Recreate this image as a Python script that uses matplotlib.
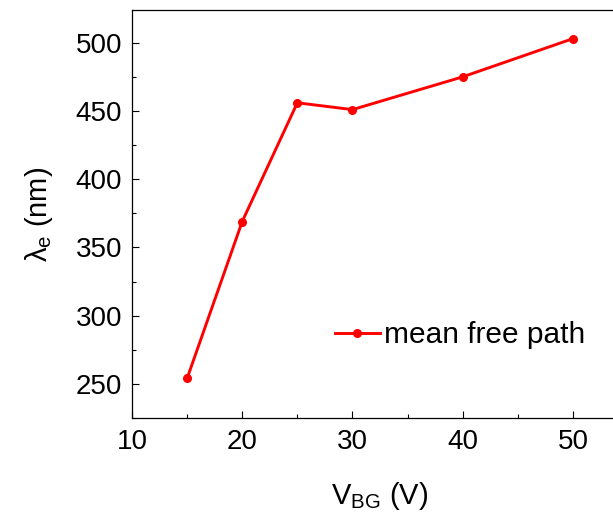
import matplotlib
matplotlib.use("Agg")
import matplotlib.pyplot as plt
from matplotlib.ticker import MultipleLocator

plt.rcParams['font.family'] = ['Liberation Sans', 'DejaVu Sans']
plt.rcParams['mathtext.fontset'] = 'custom'
plt.rcParams['mathtext.rm'] = 'Liberation Sans'
plt.rcParams['mathtext.it'] = 'Liberation Sans:italic'

v_bg = [15, 20, 25, 30, 40, 50]
mfp = [254, 369, 456, 451, 475, 503]
x_ticks = [10, 20, 30, 40, 50]
y_ticks = [250, 300, 350, 400, 450, 500]

fig = plt.figure(figsize=(6.13, 5.15), dpi=100)
ax = fig.add_axes([132/613, 97/515, 496/613, 408/515])

ax.plot(v_bg, mfp, color='#ff0000', lw=2.1, marker='o', ms=5.5, label='mean free path')

ax.set_xlim(10, 55)
ax.set_ylim(225, 524)
ax.set_xticks(x_ticks)
ax.set_yticks(y_ticks)
ax.xaxis.set_minor_locator(MultipleLocator(5))
ax.yaxis.set_minor_locator(MultipleLocator(25))
ax.tick_params(which='both', direction='in', top=False, right=False, labelsize=20, width=0.8)
ax.tick_params(axis='x', which='major', length=5, pad=8)
ax.tick_params(axis='y', which='major', length=5, pad=7)
ax.tick_params(which='minor', length=3)
for s in ax.spines.values():
    s.set_linewidth(0.9)

ax.set_xlabel(r'V$_{\mathrm{BG}}$ (V)', fontsize=21, labelpad=18)
ax.set_ylabel(r'λ$_{\mathrm{e}}$ (nm)', fontsize=21, labelpad=15)

ax.legend(loc='center left', bbox_to_anchor=(0.385, 0.203), frameon=False, fontsize=21.5,
          handlelength=1.5, handletextpad=0.15, borderaxespad=0)

fig.savefig('out.png', dpi=100)
